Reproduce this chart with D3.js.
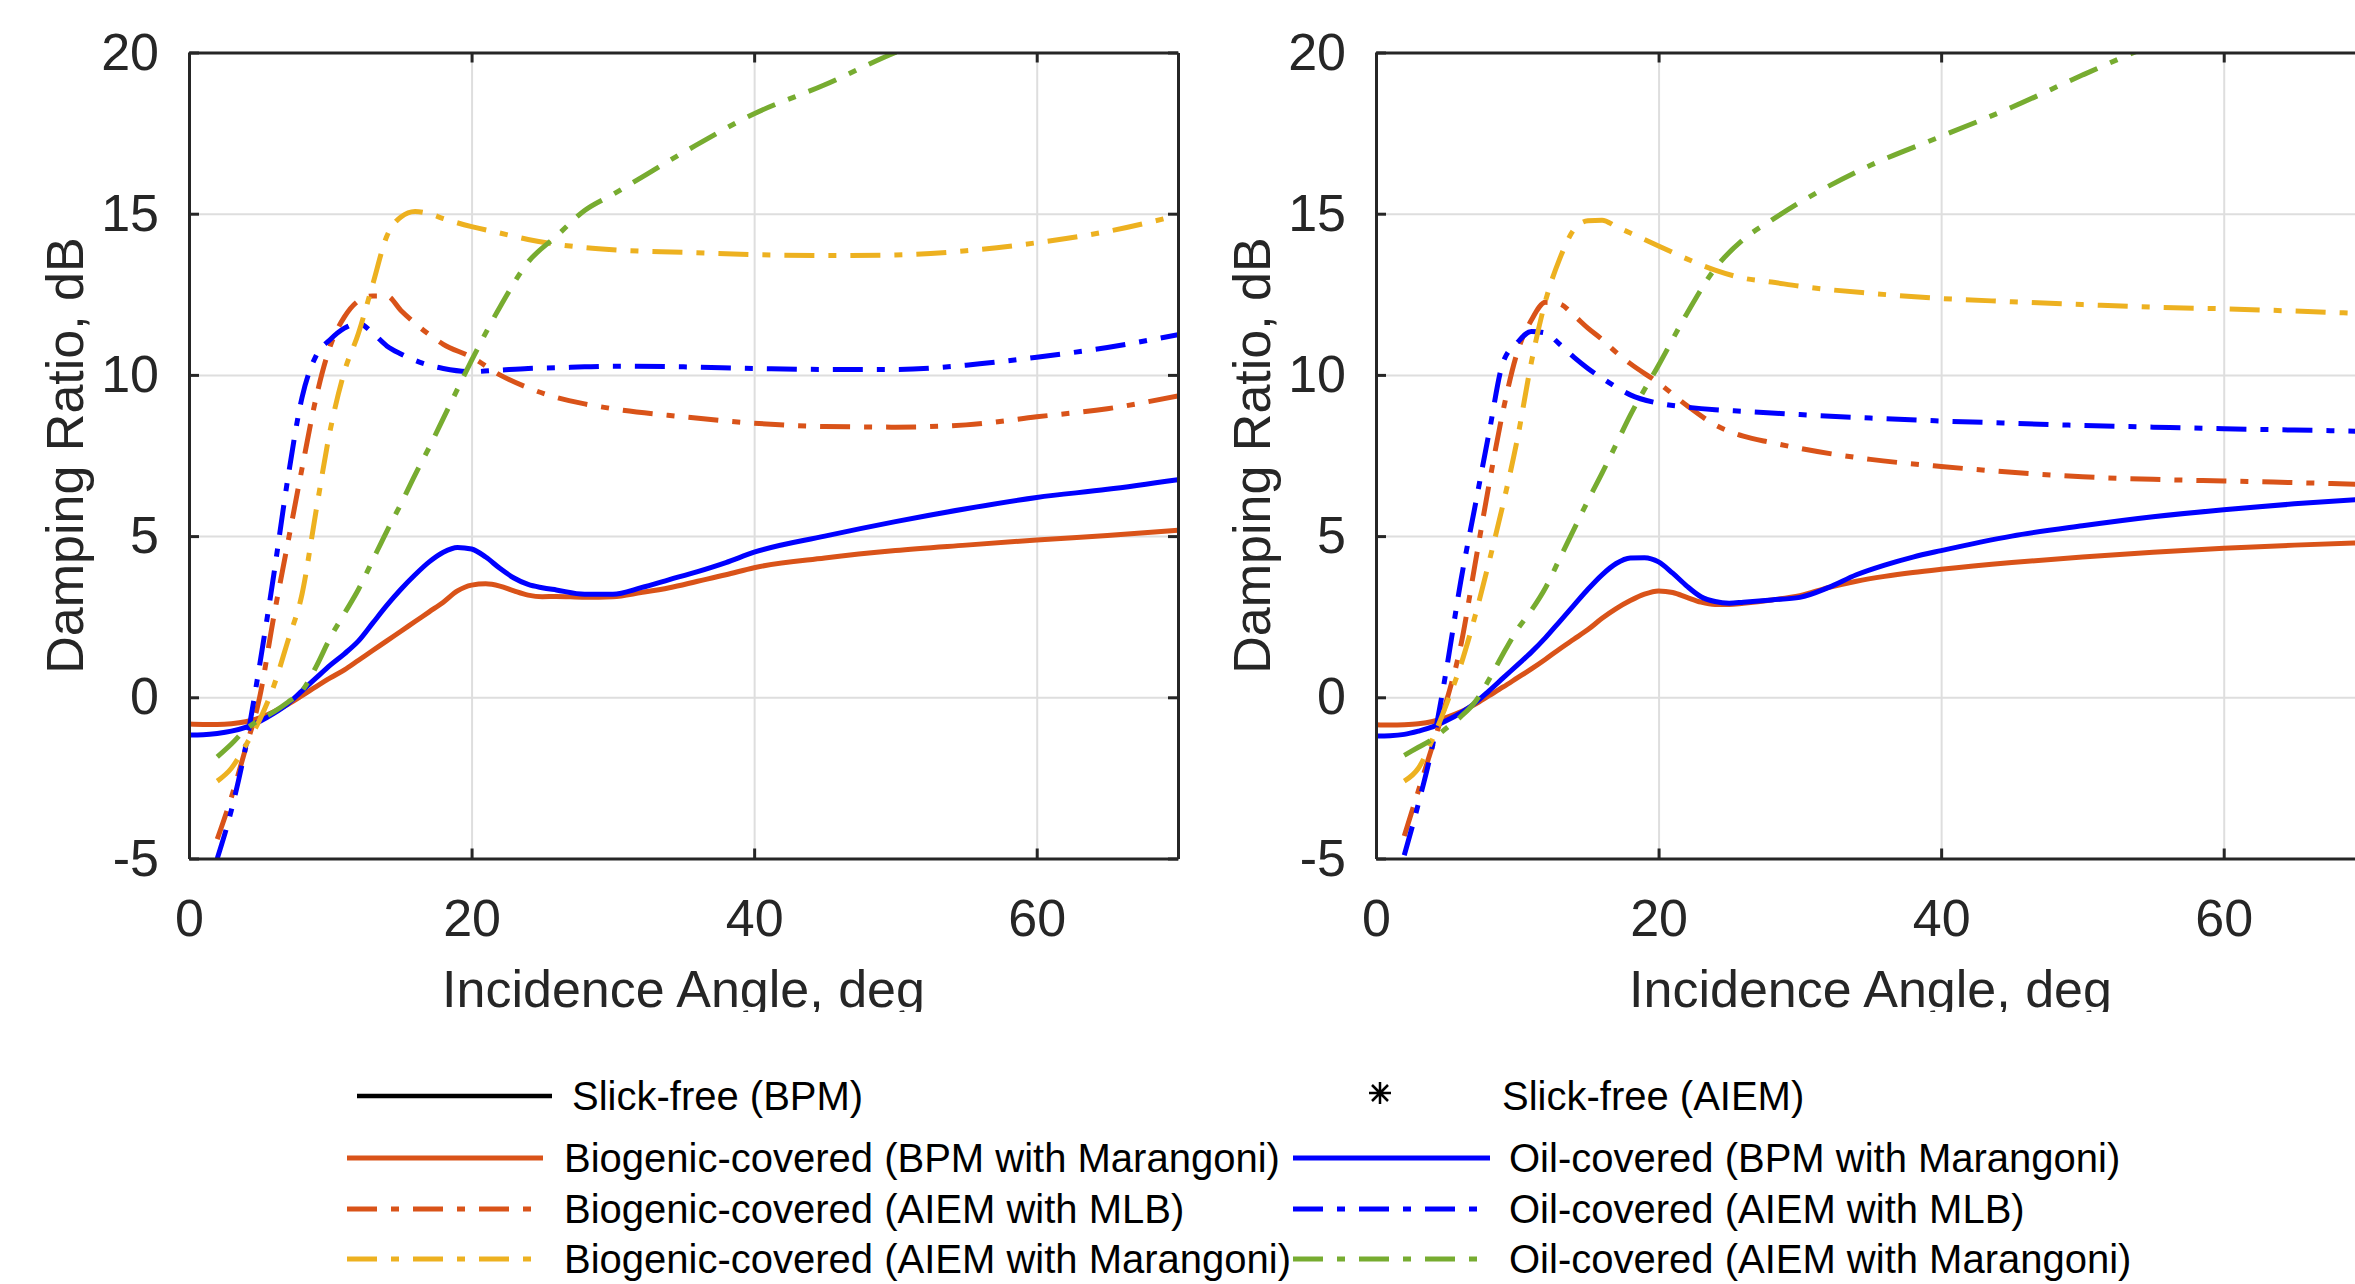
<!DOCTYPE html>
<html>
<head>
<meta charset="utf-8">
<script src="https://cdn.jsdelivr.net/npm/d3@7"></script>
<style>
  html, body { margin: 0; padding: 0; background: #fff; }
  svg { display: block; }
  text { font-family: "Liberation Sans", Arial, Helvetica, sans-serif; }
</style>
</head>
<body>
<svg id="chart"></svg>
<script>
// Data
var bpmAngles = [0, 1, 2, 3, 4, 5, 6, 7, 8, 9, 10, 11, 12, 13, 14, 15, 16, 17, 18, 19, 20,
                 21, 22, 23, 24, 25, 26, 28, 30, 32, 34, 36, 38, 40, 45, 50, 55, 60, 65, 70];
var aiemAngles = [2, 3, 4, 5, 6, 7, 8, 9, 10, 11, 12, 13, 14, 15, 16, 17, 18, 20, 22, 24, 26,
                  28, 30, 35, 40, 45, 50, 55, 60, 65, 70];

// left panel
var aBioBPM = [-0.83, -0.84, -0.84, -0.82, -0.76, -0.64, -0.45, -0.22, 0.05, 0.33, 0.6, 0.85, 1.15,
               1.45, 1.75, 2.05, 2.35, 2.65, 2.95, 3.3, 3.48, 3.52, 3.45, 3.3, 3.17, 3.12, 3.13, 3.1,
               3.12, 3.25, 3.4, 3.6, 3.8, 4.02, 4.32, 4.55, 4.72, 4.88, 5.02, 5.18];
var aOilBPM = [-1.17, -1.16, -1.12, -1.05, -0.93, -0.75, -0.5, -0.2, 0.2, 0.6, 1.0, 1.35, 1.75,
               2.3, 2.85, 3.35, 3.8, 4.2, 4.5, 4.65, 4.6, 4.35, 4.0, 3.7, 3.5, 3.4, 3.33, 3.2,
               3.2, 3.4, 3.65, 3.9, 4.18, 4.5, 5.0, 5.45, 5.85, 6.2, 6.45, 6.75];
var aBioMLB = [-4.4, -3.1, -1.6, 0.0, 2.5, 4.8, 7.1, 9.3, 10.9, 11.8, 12.3, 12.45, 12.45, 12.0,
               11.6, 11.25, 10.95, 10.55, 10.0, 9.6, 9.3, 9.1, 8.95, 8.7, 8.5, 8.4, 8.38, 8.45,
               8.7, 8.95, 9.35];
var aOilMLB = [-5.0, -3.5, -1.55, 1.0, 3.8, 6.8, 9.3, 10.6, 11.1, 11.45, 11.6, 11.3, 10.9, 10.65,
               10.45, 10.3, 10.2, 10.1, 10.15, 10.2, 10.22, 10.25, 10.27, 10.25, 10.2, 10.17,
               10.17, 10.3, 10.55, 10.85, 11.25];
var aBioMar = [-2.6, -2.2, -1.5, -0.7, 0.35, 1.75, 3.2, 5.8, 8.3, 10.1, 11.3, 12.8, 14.3, 14.9,
               15.07, 15.0, 14.85, 14.6, 14.4, 14.2, 14.05, 13.95, 13.88, 13.8, 13.73, 13.7,
               13.72, 13.85, 14.1, 14.45, 14.95];
var aOilMar = [-1.85, -1.45, -1.0, -0.7, -0.45, -0.15, 0.2, 0.95, 1.85, 2.6, 3.35, 4.25, 5.15, 6.0,
               6.9, 7.75, 8.65, 10.45, 12.1, 13.5, 14.3, 15.1, 15.6, 16.9, 18.1, 19.0, 20.0, 20.8,
               21.5, 22.1, 22.7];

// right panel
var bBioBPM = [-0.85, -0.86, -0.85, -0.82, -0.75, -0.62, -0.45, -0.22, 0.05, 0.32, 0.6, 0.88, 1.18,
               1.5, 1.8, 2.1, 2.45, 2.75, 3.0, 3.2, 3.3, 3.25, 3.1, 2.95, 2.88, 2.88, 2.92, 3.02,
               3.15, 3.4, 3.6, 3.75, 3.87, 3.97, 4.18, 4.35, 4.5, 4.62, 4.72, 4.8];
var bOilBPM = [-1.2, -1.19, -1.15, -1.05, -0.92, -0.72, -0.48, -0.18, 0.2, 0.6, 1.0, 1.4, 1.85,
               2.35, 2.85, 3.35, 3.8, 4.15, 4.32, 4.33, 4.2, 3.85, 3.45, 3.12, 2.97, 2.92, 2.95,
               3.02, 3.1, 3.4, 3.8, 4.1, 4.35, 4.55, 5.0, 5.32, 5.6, 5.82, 6.0, 6.15];
var bBioMLB = [-4.3, -2.9, -1.5, -0.1, 1.6, 4.1, 6.6, 8.9, 10.7, 11.7, 12.25, 12.2, 11.85, 11.45,
               11.1, 10.7, 10.35, 9.75, 9.05, 8.45, 8.1, 7.9, 7.72, 7.38, 7.16, 6.98, 6.84, 6.76,
               6.71, 6.66, 6.6];
var bOilMLB = [-4.9, -3.3, -1.5, 0.9, 3.6, 5.9, 8.2, 10.4, 11.0, 11.35, 11.3, 10.95, 10.55, 10.2,
               9.9, 9.62, 9.38, 9.12, 9.0, 8.92, 8.87, 8.82, 8.77, 8.66, 8.57, 8.5, 8.43, 8.38,
               8.33, 8.29, 8.25];
var bBioMar = [-2.6, -2.2, -1.3, -0.2, 1.0, 2.5, 4.2, 6.0, 8.0, 10.4, 12.3, 13.6, 14.5, 14.78,
               14.8, 14.6, 14.4, 14.0, 13.6, 13.25, 13.0, 12.88, 12.75, 12.53, 12.37, 12.27,
               12.18, 12.1, 12.05, 11.98, 11.9];
var bOilMar = [-1.8, -1.55, -1.3, -0.95, -0.6, -0.15, 0.55, 1.35, 2.1, 2.7, 3.4, 4.3, 5.2, 6.1,
               6.95, 7.85, 8.75, 10.3, 11.9, 13.3, 14.2, 14.8, 15.35, 16.5, 17.4, 18.3, 19.3,
               20.25, 21.1, 21.9, 22.6];

var xTicks = [0, 20, 40, 60];
var yTicks = [-5, 0, 5, 10, 15, 20];

var legendLeft = ["Biogenic-covered (BPM with Marangoni)", "Biogenic-covered (AIEM with MLB)",
                  "Biogenic-covered (AIEM with Marangoni)"];
var legendRight = ["Oil-covered (BPM with Marangoni)", "Oil-covered (AIEM with MLB)",
                   "Oil-covered (AIEM with Marangoni)"];

// svg
var width = 2355, height = 1284;
var svg = d3.select("#chart").attr("width", width).attr("height", height);
svg.append("rect").attr("width", width).attr("height", height).attr("fill", "#fff");

var axisColor = "#262626";
var dashDot = "30,14,8,14";
var orange = "#D95319", yellow = "#EDB120", green = "#77AC30", blue = "#0000FF";

var top0 = 52.5, bottom0 = 858.5, plotW = 989;
var plainNum = d => String(d);   // MATLAB style "-5", not the unicode minus

function drawPanel(id, x0, lines) {
    var x = d3.scaleLinear().domain([0, 70]).range([x0, x0 + plotW]);
    var y = d3.scaleLinear().domain([-5, 20]).range([bottom0, top0]);
    var g = svg.append("g");

    svg.append("clipPath").attr("id", "clip" + id)
        .append("rect").attr("x", x0).attr("y", top0)
        .attr("width", plotW).attr("height", bottom0 - top0);

    // grid
    g.append("g").attr("transform", "translate(0," + bottom0 + ")")
        .call(d3.axisBottom(x).tickValues(xTicks).tickSize(-(bottom0 - top0)).tickFormat(""))
        .call(s => s.select(".domain").remove())
        .selectAll("line").attr("stroke", "#dedede").attr("stroke-width", 2);
    g.append("g").attr("transform", "translate(" + x0 + ",0)")
        .call(d3.axisLeft(y).tickValues(yTicks).tickSize(-plotW).tickFormat(""))
        .call(s => s.select(".domain").remove())
        .selectAll("line").attr("stroke", "#dedede").attr("stroke-width", 2);

    // series
    var line = d3.line()
        .x(d => x(d[0]))
        .y(d => y(d[1]))
        .curve(d3.curveMonotoneX);
    var lg = g.append("g").attr("clip-path", "url(#clip" + id + ")");
    lines.forEach(function (s) {
        var pts = s.angles.map((a, i) => [a, s.values[i]]);
        lg.append("path")
            .attr("d", line(pts))
            .attr("fill", "none")
            .attr("stroke", s.color)
            .attr("stroke-width", 5)
            .attr("stroke-dasharray", s.dash ? dashDot : null);
    });

    // axes (ticks point inward, box on)
    var ax = g.append("g");
    ax.append("g").attr("transform", "translate(0," + bottom0 + ")")
        .call(d3.axisBottom(x).tickValues(xTicks).tickFormat(plainNum)
            .tickSizeInner(-10).tickSizeOuter(0).tickPadding(41));
    ax.append("g").attr("transform", "translate(0," + top0 + ")")
        .call(d3.axisTop(x).tickValues(xTicks).tickSizeInner(-10).tickSizeOuter(0).tickFormat(""));
    ax.append("g").attr("transform", "translate(" + x0 + ",0)")
        .call(d3.axisLeft(y).tickValues(yTicks).tickFormat(plainNum)
            .tickSizeInner(-10).tickSizeOuter(0).tickPadding(30));
    ax.append("g").attr("transform", "translate(" + (x0 + plotW) + ",0)")
        .call(d3.axisRight(y).tickValues(yTicks).tickSizeInner(-10).tickSizeOuter(0).tickFormat(""));
    ax.selectAll(".domain, .tick line").attr("stroke", axisColor).attr("stroke-width", 3);
    ax.selectAll(".tick text").attr("fill", axisColor)
        .style("font-family", "'Liberation Sans', Arial, sans-serif");
    ax.selectAll("g").attr("font-size", 52);

    // axis labels
    svg.append("clipPath").attr("id", "clipx" + id)
        .append("rect").attr("x", 0).attr("y", 0).attr("width", width).attr("height", 1012);
    g.append("text")
        .attr("clip-path", "url(#clipx" + id + ")")
        .attr("x", x0 + plotW / 2).attr("y", 1007)
        .attr("text-anchor", "middle").attr("font-size", 52).attr("fill", axisColor)
        .text("Incidence Angle, deg");
    g.append("text")
        .attr("transform", "translate(" + (x0 - 106) + "," + ((top0 + bottom0) / 2) + ") rotate(-90)")
        .attr("text-anchor", "middle").attr("font-size", 52).attr("fill", axisColor)
        .text("Damping Ratio, dB");
}

drawPanel("A", 189, [
    { angles: bpmAngles, values: aBioBPM, color: orange, dash: false },
    { angles: bpmAngles, values: aOilBPM, color: blue, dash: false },
    { angles: aiemAngles, values: aBioMLB, color: orange, dash: true },
    { angles: aiemAngles, values: aOilMLB, color: blue, dash: true },
    { angles: aiemAngles, values: aBioMar, color: yellow, dash: true },
    { angles: aiemAngles, values: aOilMar, color: green, dash: true }
]);
drawPanel("B", 1376, [
    { angles: bpmAngles, values: bBioBPM, color: orange, dash: false },
    { angles: bpmAngles, values: bOilBPM, color: blue, dash: false },
    { angles: aiemAngles, values: bBioMLB, color: orange, dash: true },
    { angles: aiemAngles, values: bOilMLB, color: blue, dash: true },
    { angles: aiemAngles, values: bBioMar, color: yellow, dash: true },
    { angles: aiemAngles, values: bOilMar, color: green, dash: true }
]);

// Legend
var leg = svg.append("g").attr("font-size", 40).attr("fill", "#000");
var rowY = [1158, 1209, 1259];
var leftStyles = [{ c: orange, d: false }, { c: orange, d: true }, { c: yellow, d: true }];
var rightStyles = [{ c: blue, d: false }, { c: blue, d: true }, { c: green, d: true }];

// slick-free row
leg.append("line").attr("x1", 357).attr("x2", 552).attr("y1", 1096).attr("y2", 1096)
    .attr("stroke", "#000").attr("stroke-width", 4.5);
leg.append("text").attr("x", 572).attr("y", 1096).attr("dy", "0.35em").text("Slick-free (BPM)");
var ast = leg.append("g").attr("transform", "translate(1380,1093)")
    .attr("stroke", "#000").attr("stroke-width", 2.5);
ast.append("path").attr("d", "M-11,0H11M0,-11V11M-8,-8L8,8M-8,8L8,-8");
leg.append("text").attr("x", 1502).attr("y", 1096).attr("dy", "0.35em").text("Slick-free (AIEM)");

legendLeft.forEach(function (t, i) {
    leg.append("line").attr("x1", 347).attr("x2", 543).attr("y1", rowY[i]).attr("y2", rowY[i])
        .attr("stroke", leftStyles[i].c).attr("stroke-width", 5)
        .attr("stroke-dasharray", leftStyles[i].d ? dashDot : null);
    leg.append("text").attr("x", 564).attr("y", rowY[i]).attr("dy", "0.35em").text(t);
});
legendRight.forEach(function (t, i) {
    leg.append("line").attr("x1", 1293).attr("x2", 1490).attr("y1", rowY[i]).attr("y2", rowY[i])
        .attr("stroke", rightStyles[i].c).attr("stroke-width", 5)
        .attr("stroke-dasharray", rightStyles[i].d ? dashDot : null);
    leg.append("text").attr("x", 1509).attr("y", rowY[i]).attr("dy", "0.35em").text(t);
});
</script>
</body>
</html>
